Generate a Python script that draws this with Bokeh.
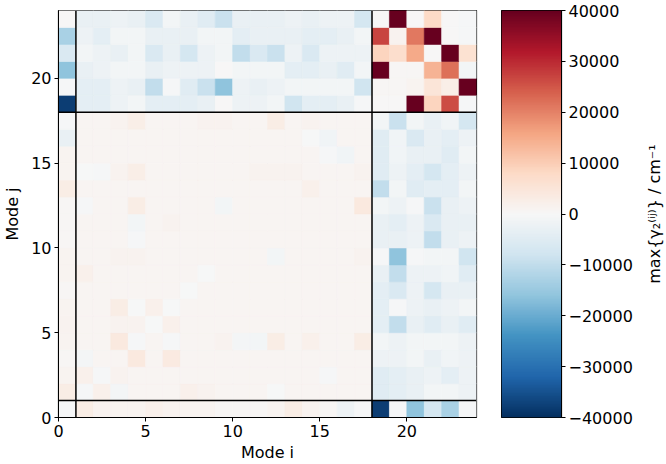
import numpy as np
from math import pi
from bokeh.plotting import figure
from bokeh.models import ColumnDataSource, Span, FixedTicker, Label, LinearColorMapper
from bokeh.layouts import row
from bokeh.transform import linear_cmap
from bokeh.embed import file_html
from bokeh.resources import INLINE

# ---------------- data (value of cell at mode i (column), mode j (row)) ----------------
row_00 = [-500, 3000, 1500, 1000, 1000, 2000, 1500, 1000, 1000, 500, 500, 500, 1000, 3000, 1500, 500, -2000, -500, -38000, -500, -16000, -7000, -13000, -500]
row_01 = [3000, -500, 2000, -800, 700, 700, 700, 2000, 1500, 700, 700, 700, -300, 700, 700, 700, 700, 700, -5000, -4000, -3000, -1000, -1000, -2000]
row_02 = [1000, 2000, -500, 1500, 700, 700, 700, 700, 700, 700, 700, 700, 700, 700, 700, -500, 700, 700, -5000, -4000, -3000, -2000, -4000, -2000]
row_03 = [500, -800, 700, 700, 4000, 700, 3500, 700, 700, 700, 700, 700, 700, 700, 700, 700, 700, 700, -2000, -2000, -1000, -3000, -1500, -2000]
row_04 = [1000, 700, 700, 4000, -500, 700, -500, 700, 700, 1500, -800, -1000, 3000, 700, 2000, 700, 700, 3000, -1000, -2000, -1000, -1000, -1000, -2000]
row_05 = [1500, 700, 700, 1500, 1500, -300, 2000, 700, 700, 700, 700, 700, 700, 700, 700, 700, 700, 700, -4000, -10000, -3000, -5000, -3000, -5000]
row_06 = [1000, 700, 700, 3000, -300, 2000, -300, 700, 700, 700, 700, 700, 700, 700, 700, 700, 700, 700, -4000, -500, -2000, -3000, -2000, -1000]
row_07 = [500, 700, 700, 700, 700, 700, 700, -300, 700, 700, 700, 700, 700, 700, 700, 700, 700, 700, -4000, -6000, -2000, -7000, -3000, -3000]
row_08 = [1000, 2000, 700, 700, 700, 700, 700, 700, -200, 700, 700, 700, 700, 700, 700, 700, 700, 700, -3000, -10000, -2000, -2000, -1500, -5000]
row_09 = [1000, 700, 700, 1500, 1500, 700, 700, 700, 700, 700, 700, 700, -1000, 700, 700, 700, 700, 1500, -500, -16000, -500, -1000, -1000, -8000]
row_10 = [500, 700, 700, 700, -500, 700, 700, 700, 700, 700, 700, 700, 700, 700, 700, 700, 700, 700, -3000, -3000, -2000, -10000, -3000, -2000]
row_11 = [500, 700, 700, 700, -1000, 700, 1500, 700, 700, 700, 700, 700, 700, 700, 700, 700, 700, 700, -3000, -4000, -2000, -6000, -3000, -3000]
row_12 = [500, -500, 700, 700, 3000, 700, 700, 700, 700, -1000, 700, 700, 700, 700, 700, 700, 700, 4000, -1000, -2000, -500, -9000, -3000, -2000]
row_13 = [3000, 700, 700, 700, 700, 700, 700, 700, 700, 700, 700, 700, 700, 700, 2000, 700, 700, 700, -10000, -1000, -5000, -4000, -4000, -1000]
row_14 = [1000, -300, -500, 1500, 2500, 700, 700, 700, 700, 700, 700, 1500, 1500, 1500, 700, 700, 700, 1500, -5000, -2000, -4000, -7000, -4000, -2000]
row_15 = [1000, 700, 700, 700, 700, 700, 700, 700, 700, 700, 700, 700, 700, 700, 700, -500, -1500, 700, -5000, -1500, -3000, -3000, -5000, -1000]
row_16 = [-3000, 700, 700, 700, 700, 700, 700, 700, 700, 700, 700, 700, 700, 700, -300, -1500, 700, 700, -5000, -1500, -6000, -3000, -4000, -2000]
row_17 = [-500, 700, 700, 1500, 2500, 700, 700, 700, 1500, 1500, 700, 700, 3000, 700, 1500, 700, 700, 700, -1000, -9000, -1000, -3000, -1500, -7000]
row_18 = [-38000, -4000, -4000, -2000, -1000, -4000, -4000, -4000, -3000, 0, -2000, -2000, -1000, -8000, -4000, -4000, -3000, -500, 0, 0, 40000, 9000, 26000, -500]
row_19 = [-500, -4000, -4000, -2000, -3000, -10000, -500, -5000, -9000, -16000, -2000, -3000, -2000, -1000, -1000, -1000, -1000, -8000, 500, 500, 1000, 5000, 2500, 40000]
row_20 = [-16000, -3000, -2000, -1000, -1000, -3000, -2000, -2000, -2000, 0, -1000, -1000, -1000, -4000, -4000, -3000, -5000, -1000, 40000, 500, 500, 14000, 22000, -1000]
row_21 = [-6000, -1000, -2000, -3000, -1000, -6000, -3000, -7000, -2000, -1000, -10000, -6000, -9000, -2000, -6000, -2000, -2000, -2000, 9000, 7000, 15000, 0, 40000, 6000]
row_22 = [-13000, -2000, -4000, -1000, -1000, -3000, -3000, -3000, -1000, -1000, -4000, -3000, -3000, -3000, -4000, -4000, -3000, -1000, 27000, 1500, 21000, 40000, 0, -500]
row_23 = [0, -3000, -3000, -2000, -3000, -6000, -1000, -3000, -5000, -9000, -3000, -3000, -3000, -2000, -3000, -2000, -2000, -7000, 0, 40000, 0, 8000, 0, -500]

block_edges = [1, 18]
axis_ticks = [0, 5, 10, 15, 20]
cbar_ticks = [-40000, -30000, -20000, -10000, 0, 10000, 20000, 30000, 40000]
vmin, vmax = -40000, 40000
cbar_label = "max{γ₂⁽ⁱʲ⁾} / cm⁻¹"

rows = [row_00, row_01, row_02, row_03, row_04, row_05, row_06, row_07, row_08, row_09,
        row_10, row_11, row_12, row_13, row_14, row_15, row_16, row_17, row_18, row_19,
        row_20, row_21, row_22, row_23]

xs, ys, vs = [], [], []
for j, r in enumerate(rows):
    for i, v in enumerate(r):
        xs.append(i + 0.5)
        ys.append(j + 0.5)
        vs.append(v)
src = ColumnDataSource(dict(x=xs, y=ys, v=vs))

# matplotlib RdBu_r built from the ColorBrewer RdBu anchors
rdbu = ['#67001f', '#b2182b', '#d6604d', '#f4a582', '#fddbc7', '#f7f7f7',
        '#d1e5f0', '#92c5de', '#4393c3', '#2166ac', '#053061']
anchors = rdbu[::-1]


def interp(colors, n):
    rgb = np.array([[int(c[k:k + 2], 16) for k in (1, 3, 5)] for c in colors], float)
    out = []
    for t in np.linspace(0, len(colors) - 1, n):
        k = min(int(t), len(colors) - 2)
        f = t - k
        c = rgb[k] * (1 - f) + rgb[k + 1] * f
        out.append('#%02x%02x%02x' % tuple(int(round(x)) for x in c))
    return out


palette = interp(anchors, 256)

FONT = "DejaVu Sans"
H = 464
TOP, BOTTOM = 10, 47

# ---------------- main heat map ----------------
p = figure(width=501, height=H, x_range=(0, 24), y_range=(0, 24),
           output_backend="svg", toolbar_location=None,
           min_border_left=55, min_border_right=25,
           min_border_top=TOP, min_border_bottom=BOTTOM)
cmap = linear_cmap('v', palette, vmin, vmax)
p.rect(x='x', y='y', width=1, height=1, source=src,
       fill_color=cmap, line_color=cmap, line_width=0.6)

for e in block_edges:
    p.add_layout(Span(location=e, dimension='height', line_color='black', line_width=1.5))
    p.add_layout(Span(location=e, dimension='width', line_color='black', line_width=1.5))

p.grid.visible = False
p.outline_line_color = 'black'
p.outline_line_width = 1.2
p.background_fill_color = 'white'
p.border_fill_color = 'white'

for ax in (p.xaxis[0], p.yaxis[0]):
    ax.ticker = FixedTicker(ticks=axis_ticks)
    ax.major_label_text_font = FONT
    ax.major_label_text_font_size = "16px"
    ax.major_label_text_color = "black"
    ax.axis_label_text_font = FONT
    ax.axis_label_text_font_size = "16px"
    ax.axis_label_text_font_style = "normal"
    ax.axis_label_text_color = "black"
    ax.major_tick_out = 4
    ax.major_tick_in = 0
    ax.minor_tick_out = 0
    ax.minor_tick_in = 0
    ax.major_tick_line_color = "black"
    ax.axis_line_color = "black"
    ax.major_label_standoff = 3
p.xaxis.axis_label = "Mode i"
p.yaxis.axis_label = "Mode j"
p.xaxis.axis_label_standoff = 3
p.yaxis.axis_label_standoff = 6

# ---------------- colour bar ----------------
mapper = LinearColorMapper(palette=palette, low=vmin, high=vmax)
cb = figure(width=141, height=H, x_range=(0, 1), y_range=(vmin, vmax),
            output_backend="svg", toolbar_location=None,
            x_axis_location=None, y_axis_location="right",
            min_border_left=0, min_border_right=81,
            min_border_top=TOP, min_border_bottom=BOTTOM)
gradient = np.linspace(vmin, vmax, 512).reshape(512, 1)
cb.image(image=[gradient], x=0, y=vmin, dw=1, dh=vmax - vmin, color_mapper=mapper)
cb.grid.visible = False
cb.outline_line_color = 'black'
cb.outline_line_width = 1.2
cb.border_fill_color = 'white'
ya = cb.yaxis[0]
ya.ticker = FixedTicker(ticks=cbar_ticks)
ya.major_label_overrides = {t: str(t).replace('-', '\u2212') for t in cbar_ticks}
ya.major_label_text_font = FONT
ya.major_label_text_font_size = "16px"
ya.major_label_text_color = "black"
ya.major_tick_out = 4
ya.major_tick_in = 0
ya.minor_tick_out = 0
ya.minor_tick_in = 0
ya.major_tick_line_color = "black"
ya.axis_line_color = "black"
ya.major_label_standoff = 3

# ---------------- colour-bar label (rotated text) ----------------
lab = figure(width=24, height=H, x_range=(0, 1), y_range=(0, 1),
             output_backend="svg", toolbar_location=None,
             x_axis_location=None, y_axis_location=None,
             min_border_left=0, min_border_right=0,
             min_border_top=TOP, min_border_bottom=BOTTOM)
lab.outline_line_color = None
lab.grid.visible = False
lab.border_fill_color = 'white'
lab.add_layout(Label(x=0.5, y=0.5, angle=pi / 2, text=cbar_label,
                     text_font=FONT, text_font_size="16px", text_color="black",
                     text_align="center", text_baseline="middle"))

layout = row(p, cb, lab)
open("out.html", "w").write(file_html(layout, INLINE))
